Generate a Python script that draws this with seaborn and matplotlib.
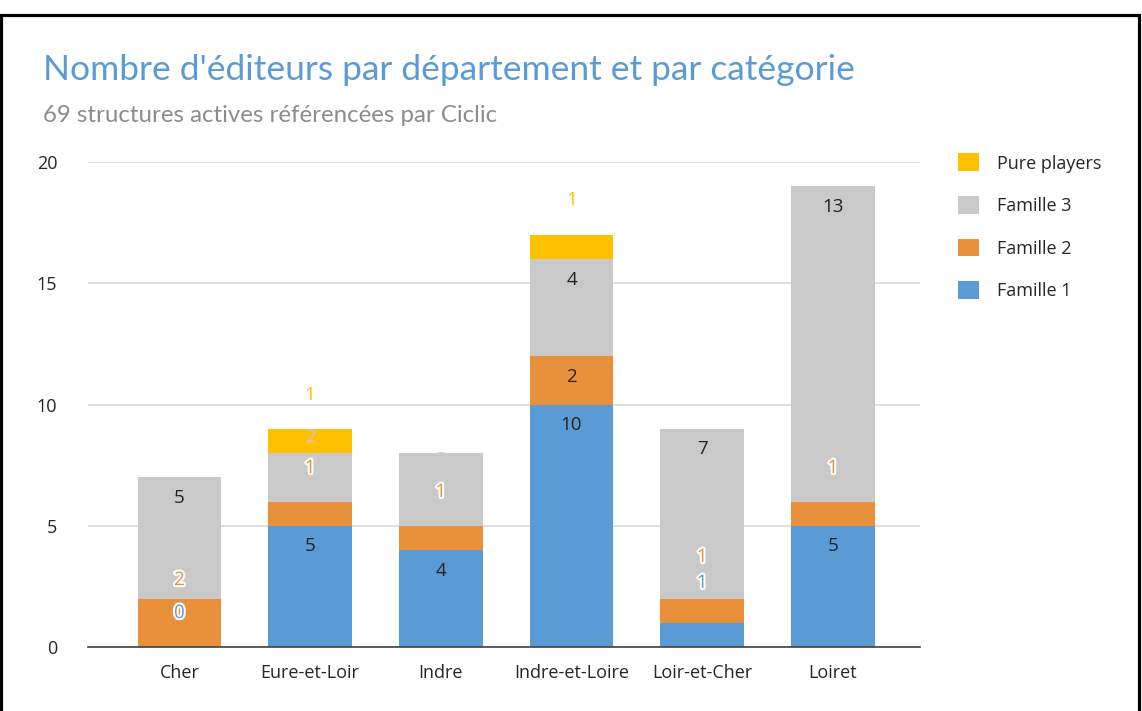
import numpy as np
import pandas as pd
import matplotlib.pyplot as plt
import matplotlib.patheffects as pe
from matplotlib.patches import Patch, Rectangle
import seaborn as sns

# data
departements = ['Cher', 'Eure-et-Loir', 'Indre', 'Indre-et-Loire', 'Loir-et-Cher', 'Loiret']
famille_1 = [0, 5, 4, 10, 1, 5]
famille_2 = [2, 1, 1, 2, 1, 1]
famille_3 = [5, 2, 3, 4, 7, 13]
pure_players = [0, 1, 0, 1, 0, 0]

series_names = ['Famille 1', 'Famille 2', 'Famille 3', 'Pure players']
series_colors = ['#5b9bd5', '#e8913a', '#c9c9c9', '#ffc000']

# labels that excel pushed out of their segment (dept index, series index) -> y
moved_labels = {
    (0, 0): 1.40, (0, 1): 2.76,
    (1, 1): 7.38, (1, 2): 8.66, (1, 3): 10.39,
    (2, 1): 6.39, (2, 2): 7.70,
    (3, 3): 18.43,
    (4, 0): 2.64, (4, 1): 3.71,
    (5, 1): 7.38,
}

df = pd.DataFrame({'dep': departements, 'Famille 1': famille_1, 'Famille 2': famille_2,
                   'Famille 3': famille_3, 'Pure players': pure_players})
cum = df[series_names].cumsum(axis=1)

plt.rcParams['font.family'] = ['Open Sans', 'DejaVu Sans']
fig = plt.figure(figsize=(11.42, 7.11), dpi=100)
ax = fig.add_axes([0.077, 0.090, 0.729, 0.682])

# stacked bars: draw cumulative totals from the top layer down
for name, color in zip(series_names[::-1], series_colors[::-1]):
    sns.barplot(x=df['dep'], y=cum[name], color=color, width=0.64, saturation=1,
                ax=ax, zorder=3)

# data labels
for i in range(len(departements)):
    for s, name in enumerate(series_names):
        val = df.loc[i, name]
        top = cum.loc[i, name]
        if name == 'Pure players' and val == 0:
            continue
        if (i, s) in moved_labels:
            y = moved_labels[(i, s)]
            col = series_colors[s]
            z = 5
            effects = [pe.withStroke(linewidth=3, foreground='white')]
            if s == 2 and i == 2:
                z = 1  # hidden behind the bar, only a bump shows
            if s >= 2:
                effects = []
            ax.text(i, y, str(val), ha='center', va='center', fontsize=13.5,
                    color=col, zorder=z, path_effects=effects)
        else:
            ax.text(i, top - 0.85, str(val), ha='center', va='center', fontsize=13.5,
                    color='#222222', zorder=5)

ax.set_xlim(-0.7, 5.67)
ax.set_ylim(0, 20)
ax.set_yticks([0, 5, 10, 15, 20])
ax.yaxis.grid(True, color='#d9d9d9', linewidth=1.2, zorder=0)
ax.set_axisbelow(True)
for sp in ['top', 'right', 'left']:
    ax.spines[sp].set_visible(False)
ax.spines['bottom'].set_color('#404040')
ax.spines['bottom'].set_linewidth(1.2)
ax.spines['bottom'].set_zorder(6)
ax.tick_params(axis='both', length=0, labelsize=13, colors='#262626')
ax.tick_params(axis='x', pad=12)
ax.tick_params(axis='y', pad=22)
ax.set_xlabel('')
ax.set_ylabel('')

handles = [Patch(facecolor=c, edgecolor='none', label=n)
           for n, c in zip(series_names[::-1], series_colors[::-1])]
fig.legend(handles=handles, loc='upper left', bbox_to_anchor=(0.825, 0.807),
           frameon=False, fontsize=13, handlelength=1.15, handleheight=1.15,
           labelspacing=1.3, handletextpad=1.0, labelcolor='#262626')

fig.text(0.038, 0.902, "Nombre d'éditeurs par département et par catégorie",
         fontsize=25.5, color='#5b9bd5', va='center', family=['Lato', 'DejaVu Sans'])
fig.text(0.038, 0.838, '69 structures actives référencées par Ciclic',
         fontsize=17.3, color='#8c8c8c', va='center', family=['Lato', 'DejaVu Sans'])

fig.patches.append(Rectangle((0.0013, -0.1), 0.9965, 1.0796, transform=fig.transFigure,
                             fill=False, edgecolor='black', linewidth=2.3))

fig.savefig('out.png', dpi=100)
